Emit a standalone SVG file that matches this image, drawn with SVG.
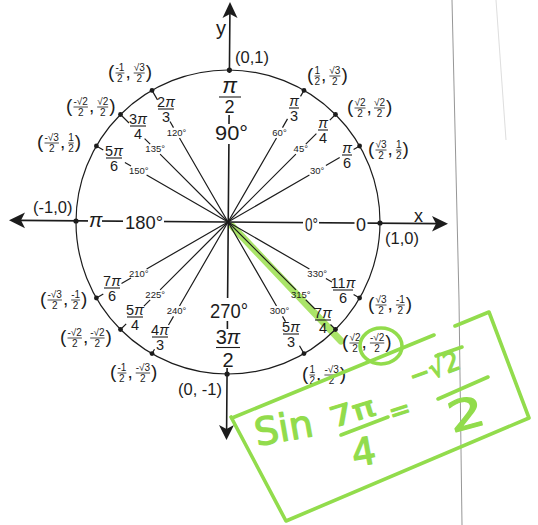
<svg xmlns="http://www.w3.org/2000/svg" width="538" height="525" viewBox="0 0 538 525">
<style>
text{font-family:"Liberation Sans",Arial,sans-serif;fill:#1c1c1c}
.ln{stroke:#1c1c1c;stroke-width:1.2;fill:none}
.ax{stroke:#1c1c1c;stroke-width:1.6;fill:none}
.dot{fill:#1c1c1c}
.wb{fill:#fff}
.p{font-size:19px}
.f{font-size:10px;text-anchor:middle}
.fb{stroke:#1c1c1c;stroke-width:0.8}
.d{font-size:9.5px;text-anchor:middle}
.rn{font-size:14.5px;text-anchor:middle}
.rb{stroke:#1c1c1c;stroke-width:1.1}
.pi{font-style:italic}
.co{font-size:16.5px}
.big{font-size:21px}
.g{stroke:#92dc4c;fill:none;stroke-width:3.6;stroke-linecap:round;stroke-linejoin:round}
.gt{fill:#92dc4c;stroke:#92dc4c;stroke-width:1.2;stroke-linejoin:round;font-family:"DejaVu Sans","Liberation Sans",sans-serif}
.scan{stroke:#8a8a8a;stroke-width:0.9;fill:none}
</style>
<rect width="538" height="525" fill="#fff"/>
<g id="scan-lines">
<polyline class="scan" points="452,0 459,300 462,525"/>
<line x1="496" y1="0" x2="506" y2="140" stroke="#d4d4d4" stroke-width="0.8"/>
</g>
<g id="highlight-315">
<line x1="232" y1="226" x2="341" y2="341" stroke="#a3e25c" stroke-width="7" stroke-linecap="round" opacity="0.92"/>
</g>
<g id="unit-circle">
<circle cx="228" cy="222" r="152" class="ln"/>
</g>
<g id="connectors">
<path class="ax" d="M20,220.4 L438,223.6"/>
<path class="dot" d="M9,220.3 L25,212.5 L21,220.3 L25,228.3 Z"/>
<path class="dot" d="M448,223.7 L432,216 L436,223.7 L432,231.5 Z"/>
<path class="ax" d="M229.9,14 L229.4,73 M229.1,115 L229,124 M228.9,144 L227.6,298 M227.4,321 L227.4,329 M227.1,368 L226.6,430"/>
<path class="dot" d="M230,2 L237.5,18 L230,14 L222.5,18 Z"/>
<path class="dot" d="M226.5,440 L219,425 L226.5,429 L234,425 Z"/>
<g class="ln">
<path d="M228,222 L309.4,175 M325.9,165.5 L339.7,157.5 M353.6,149.5 L359.6,146"/>
<path d="M228,222 L295.9,154.1 M305.8,144.2 L316.4,133.6 M329.8,120.2 L335.5,114.5"/>
<path d="M228,222 L276.5,138 M282.5,127.6 L287.5,118.9 M300.5,96.4 L304,90.4"/>
<path d="M228,222 L179.5,138 M173.5,127.6 L170,121.5 M157.5,99.9 L152,90.4"/>
<path d="M228,222 L160.1,154.1 M150.2,144.2 L144.6,138.6 M129,123 L120.5,114.5"/>
<path d="M228,222 L146.6,175 M131,166 L124.9,162.5 M103.3,150 L96.4,146"/>
<path d="M228,222 L146.6,269 M131,278 L121.5,283.5 M103.3,294 L96.4,298"/>
<path d="M228,222 L160.1,289.9 M150.2,299.8 L143.9,306.1 M126.2,323.8 L120.5,329.5"/>
<path d="M228,222 L179.5,306 M173.5,316.4 L168.5,325 M154.5,349.3 L152,353.6"/>
<path d="M228,222 L276.5,306 M282.5,316.4 L285.5,321.6 M299.5,345.8 L304,353.6"/>
<path d="M228,222 L295.9,289.9 M305.8,299.8 L315,309 M330.5,324.5 L335.5,329.5"/>
<path d="M228,222 L309.4,269 M325.9,278.5 L331.9,282 M353.6,294.5 L359.6,298"/>
</g>
</g>
<g id="axis-labels">
<text x="414" y="222" font-size="18">x</text>
<text x="216" y="35" font-size="20">y</text>
</g>
<g id="node-0">
<rect class="wb" x="303" y="215" width="16" height="16"/>
<rect class="wb" x="354.5" y="215" width="13" height="16"/>
<circle class="dot" cx="380" cy="223" r="2.6"/>
<text x="305" y="231" font-size="18" textLength="13" lengthAdjust="spacingAndGlyphs">0°</text>
<text x="356" y="231" font-size="18" textLength="10" lengthAdjust="spacingAndGlyphs">0</text>
<text class="co" x="385" y="244">(1,0)</text>
</g>
<g id="node-30">
<circle class="dot" cx="359.6" cy="146" r="2.4"/>
<text class="d" x="317.2" y="173.7">30°</text>
<text class="rn" x="347" y="152.5"><tspan class="pi">π</tspan></text><line class="rb" x1="342" y1="155" x2="352" y2="155"/><text class="rn" x="347" y="167.5">6</text>
<g transform="translate(368,150)"><text class="p" x="0" y="5">(</text><text class="f" x="13" y="-1.8">√3</text><line class="fb" x1="7.5" y1="0" x2="18.5" y2="0"/><text class="f" x="13" y="8.6">2</text><text class="p" x="19.6" y="5">,</text><text class="f" x="30.7" y="-1.8">1</text><line class="fb" x1="27.9" y1="0" x2="33.5" y2="0"/><text class="f" x="30.7" y="8.6">2</text><text class="p" x="34.5" y="5">)</text></g>
</g>
<g id="node-45">
<circle class="dot" cx="335.5" cy="114.5" r="2.4"/>
<text class="d" x="300.8" y="152.4">45°</text>
<text class="rn" x="323" y="127.5"><tspan class="pi">π</tspan></text><line class="rb" x1="318" y1="130" x2="328" y2="130"/><text class="rn" x="323" y="142.5">4</text>
<g transform="translate(347,108)"><text class="p" x="0" y="5">(</text><text class="f" x="13" y="-1.8">√2</text><line class="fb" x1="7.5" y1="0" x2="18.5" y2="0"/><text class="f" x="13" y="8.6">2</text><text class="p" x="19.6" y="5">,</text><text class="f" x="32.5" y="-1.8">√2</text><line class="fb" x1="27" y1="0" x2="38" y2="0"/><text class="f" x="32.5" y="8.6">2</text><text class="p" x="39" y="5">)</text></g>
</g>
<g id="node-60">
<circle class="dot" cx="304" cy="90.4" r="2.4"/>
<text class="d" x="279.5" y="136">60°</text>
<text class="rn" x="294" y="105.5"><tspan class="pi">π</tspan></text><line class="rb" x1="289" y1="108" x2="299" y2="108"/><text class="rn" x="294" y="120.5">3</text>
<g transform="translate(307,76)"><text class="p" x="0" y="5">(</text><text class="f" x="10.3" y="-1.8">1</text><line class="fb" x1="7.5" y1="0" x2="13.1" y2="0"/><text class="f" x="10.3" y="8.6">2</text><text class="p" x="14.1" y="5">,</text><text class="f" x="27.9" y="-1.8">√3</text><line class="fb" x1="22.4" y1="0" x2="33.4" y2="0"/><text class="f" x="27.9" y="8.6">2</text><text class="p" x="34.5" y="5">)</text></g>
</g>
<g id="node-90">
<circle class="dot" cx="229.4" cy="70" r="2.6"/>
<text x="229.5" y="93" font-size="22" text-anchor="middle" class="pi">π</text>
<line class="rb" x1="219" y1="97" x2="241" y2="97" stroke-width="1.4"/>
<text x="229.5" y="113" font-size="18" text-anchor="middle">2</text>
<text class="big" x="215" y="140" textLength="33" lengthAdjust="spacingAndGlyphs">90°</text>
<text class="co" x="235" y="63">(0,1)</text>
</g>
<g id="node-120">
<circle class="dot" cx="152" cy="90.4" r="2.4"/>
<text class="d" x="176.5" y="136">120°</text>
<text class="rn" x="166" y="106.5">2<tspan class="pi">π</tspan></text><line class="rb" x1="158" y1="109" x2="174" y2="109"/><text class="rn" x="166" y="121.5">3</text>
<g transform="translate(108,73)"><text class="p" x="0" y="5">(</text><text class="f" x="11.9" y="-1.8">-1</text><line class="fb" x1="7.5" y1="0" x2="16.4" y2="0"/><text class="f" x="11.9" y="8.6">2</text><text class="p" x="17.4" y="5">,</text><text class="f" x="31.2" y="-1.8">√3</text><line class="fb" x1="25.7" y1="0" x2="36.7" y2="0"/><text class="f" x="31.2" y="8.6">2</text><text class="p" x="37.8" y="5">)</text></g>
</g>
<g id="node-135">
<circle class="dot" cx="120.5" cy="114.5" r="2.4"/>
<text class="d" x="155.2" y="152.4">135°</text>
<text class="rn" x="138" y="123.5">3<tspan class="pi">π</tspan></text><line class="rb" x1="130" y1="126" x2="146" y2="126"/><text class="rn" x="138" y="138.5">4</text>
<g transform="translate(66,107)"><text class="p" x="0" y="5">(</text><text class="f" x="14.7" y="-1.8">-√2</text><line class="fb" x1="7.5" y1="0" x2="21.9" y2="0"/><text class="f" x="14.7" y="8.6">2</text><text class="p" x="22.9" y="5">,</text><text class="f" x="36.7" y="-1.8">√2</text><line class="fb" x1="31.2" y1="0" x2="42.2" y2="0"/><text class="f" x="36.7" y="8.6">2</text><text class="p" x="43.3" y="5">)</text></g>
</g>
<g id="node-150">
<circle class="dot" cx="96.4" cy="146" r="2.4"/>
<text class="d" x="138.8" y="173.7">150°</text>
<text class="rn" x="114" y="155.5">5<tspan class="pi">π</tspan></text><line class="rb" x1="106" y1="158" x2="122" y2="158"/><text class="rn" x="114" y="170.5">6</text>
<g transform="translate(37,143)"><text class="p" x="0" y="5">(</text><text class="f" x="14.7" y="-1.8">-√3</text><line class="fb" x1="7.5" y1="0" x2="21.9" y2="0"/><text class="f" x="14.7" y="8.6">2</text><text class="p" x="22.9" y="5">,</text><text class="f" x="34" y="-1.8">1</text><line class="fb" x1="31.2" y1="0" x2="36.8" y2="0"/><text class="f" x="34" y="8.6">2</text><text class="p" x="37.8" y="5">)</text></g>
</g>
<g id="node-180">
<rect class="wb" x="88" y="212" width="14" height="16"/>
<rect class="wb" x="123" y="212" width="41" height="18"/>
<circle class="dot" cx="76" cy="221" r="2.6"/>
<text x="89" y="227" font-size="20" class="pi">π</text>
<text x="125" y="229" font-size="19" textLength="38" lengthAdjust="spacingAndGlyphs">180°</text>
<text class="co" x="33" y="213">(-1,0)</text>
</g>
<g id="node-210">
<circle class="dot" cx="96.4" cy="298" r="2.4"/>
<text class="d" x="138.8" y="276.7">210°</text>
<text class="rn" x="112" y="285.5">7<tspan class="pi">π</tspan></text><line class="rb" x1="104" y1="288" x2="120" y2="288"/><text class="rn" x="112" y="300.5">6</text>
<g transform="translate(40,300)"><text class="p" x="0" y="5">(</text><text class="f" x="14.7" y="-1.8">-√3</text><line class="fb" x1="7.5" y1="0" x2="21.9" y2="0"/><text class="f" x="14.7" y="8.6">2</text><text class="p" x="22.9" y="5">,</text><text class="f" x="35.6" y="-1.8">-1</text><line class="fb" x1="31.2" y1="0" x2="40.1" y2="0"/><text class="f" x="35.6" y="8.6">2</text><text class="p" x="41.1" y="5">)</text></g>
</g>
<g id="node-225">
<circle class="dot" cx="120.5" cy="329.5" r="2.4"/>
<text class="d" x="155.2" y="298">225°</text>
<text class="rn" x="135" y="314.5">5<tspan class="pi">π</tspan></text><line class="rb" x1="127" y1="317" x2="143" y2="317"/><text class="rn" x="135" y="329.5">4</text>
<g transform="translate(60,338)"><text class="p" x="0" y="5">(</text><text class="f" x="14.7" y="-1.8">-√2</text><line class="fb" x1="7.5" y1="0" x2="21.9" y2="0"/><text class="f" x="14.7" y="8.6">2</text><text class="p" x="22.9" y="5">,</text><text class="f" x="37.4" y="-1.8">-√2</text><line class="fb" x1="30.2" y1="0" x2="44.6" y2="0"/><text class="f" x="37.4" y="8.6">2</text><text class="p" x="45.6" y="5">)</text></g>
</g>
<g id="node-240">
<circle class="dot" cx="152" cy="353.6" r="2.4"/>
<text class="d" x="176.5" y="314.4">240°</text>
<text class="rn" x="160" y="334.5">4<tspan class="pi">π</tspan></text><line class="rb" x1="152" y1="337" x2="168" y2="337"/><text class="rn" x="160" y="349.5">3</text>
<g transform="translate(110,373)"><text class="p" x="0" y="5">(</text><text class="f" x="11.9" y="-1.8">-1</text><line class="fb" x1="7.5" y1="0" x2="16.4" y2="0"/><text class="f" x="11.9" y="8.6">2</text><text class="p" x="17.4" y="5">,</text><text class="f" x="32.9" y="-1.8">-√3</text><line class="fb" x1="25.7" y1="0" x2="40.1" y2="0"/><text class="f" x="32.9" y="8.6">2</text><text class="p" x="41.1" y="5">)</text></g>
</g>
<g id="node-270">
<circle class="dot" cx="227.1" cy="374" r="2.6"/>
<text class="big" x="210" y="318" textLength="38" lengthAdjust="spacingAndGlyphs">270°</text>
<text x="228" y="344" font-size="20" text-anchor="middle">3<tspan class="pi">π</tspan></text>
<line class="rb" x1="216" y1="347.5" x2="240" y2="347.5" stroke-width="1.4"/>
<text x="228" y="367" font-size="20" text-anchor="middle">2</text>
<text class="co" x="178" y="395">(0, -1)</text>
</g>
<g id="node-300">
<circle class="dot" cx="304" cy="353.6" r="2.4"/>
<text class="d" x="279.5" y="314.4">300°</text>
<text class="rn" x="291" y="331.5">5<tspan class="pi">π</tspan></text><line class="rb" x1="283" y1="334" x2="299" y2="334"/><text class="rn" x="291" y="346.5">3</text>
<g transform="translate(302,375)"><text class="p" x="0" y="5">(</text><text class="f" x="10.3" y="-1.8">1</text><line class="fb" x1="7.5" y1="0" x2="13.1" y2="0"/><text class="f" x="10.3" y="8.6">2</text><text class="p" x="14.1" y="5">,</text><text class="f" x="29.6" y="-1.8">-√3</text><line class="fb" x1="22.4" y1="0" x2="36.8" y2="0"/><text class="f" x="29.6" y="8.6">2</text><text class="p" x="37.8" y="5">)</text></g>
</g>
<g id="node-315">
<circle class="dot" cx="335.5" cy="329.5" r="2.4"/>
<text class="d" x="300.8" y="298">315°</text>
<text class="rn" x="323" y="317.5">7<tspan class="pi">π</tspan></text><line class="rb" x1="315" y1="320" x2="331" y2="320"/><text class="rn" x="323" y="332.5">4</text>
<g transform="translate(342,343)"><text class="p" x="0" y="5">(</text><text class="f" x="13" y="-1.8">√2</text><line class="fb" x1="7.5" y1="0" x2="18.5" y2="0"/><text class="f" x="13" y="8.6">2</text><text class="p" x="19.6" y="5">,</text><text class="f" x="35.1" y="-1.8">-√2</text><line class="fb" x1="27.9" y1="0" x2="42.3" y2="0"/><text class="f" x="35.1" y="8.6">2</text><text class="p" x="43.3" y="5">)</text></g>
</g>
<g id="node-330">
<circle class="dot" cx="359.6" cy="298" r="2.4"/>
<text class="d" x="317.2" y="276.7">330°</text>
<text class="rn" x="343" y="287.5">11<tspan class="pi">π</tspan></text><line class="rb" x1="333" y1="290" x2="353" y2="290"/><text class="rn" x="343" y="302.5">6</text>
<g transform="translate(368,305)"><text class="p" x="0" y="5">(</text><text class="f" x="13" y="-1.8">√3</text><line class="fb" x1="7.5" y1="0" x2="18.5" y2="0"/><text class="f" x="13" y="8.6">2</text><text class="p" x="19.6" y="5">,</text><text class="f" x="32.4" y="-1.8">-1</text><line class="fb" x1="27.9" y1="0" x2="36.8" y2="0"/><text class="f" x="32.4" y="8.6">2</text><text class="p" x="37.8" y="5">)</text></g>
</g>
<g id="annotation">
<ellipse class="g" cx="381" cy="346" rx="21" ry="18"/>
<path class="g" d="M232,418 L434,335"/>
<path class="g" d="M455,326 L489,312 L529,418 L286,521 L231,417"/>
<text class="gt" font-size="38" transform="translate(257,446) rotate(-10)">Sin</text>
<text class="gt" font-size="28" transform="translate(333,428) rotate(-17)" textLength="46" lengthAdjust="spacingAndGlyphs">7π</text>
<line class="g" x1="341" y1="435" x2="388" y2="417"/>
<text class="gt" font-size="38" transform="translate(354,467) rotate(-10)">4</text>
<text class="gt" font-size="26" transform="translate(392,422) rotate(-18)">=</text>
<text class="gt" font-size="27" transform="translate(413,386) rotate(-20)" textLength="52" lengthAdjust="spacingAndGlyphs">−√2</text>
<line class="g" x1="436" y1="356" x2="462" y2="347"/>
<line class="g" x1="438" y1="399" x2="488" y2="377"/>
<text class="gt" font-size="42" transform="translate(452,433) rotate(-15)" textLength="37" lengthAdjust="spacingAndGlyphs">2</text>
</g>
</svg>
